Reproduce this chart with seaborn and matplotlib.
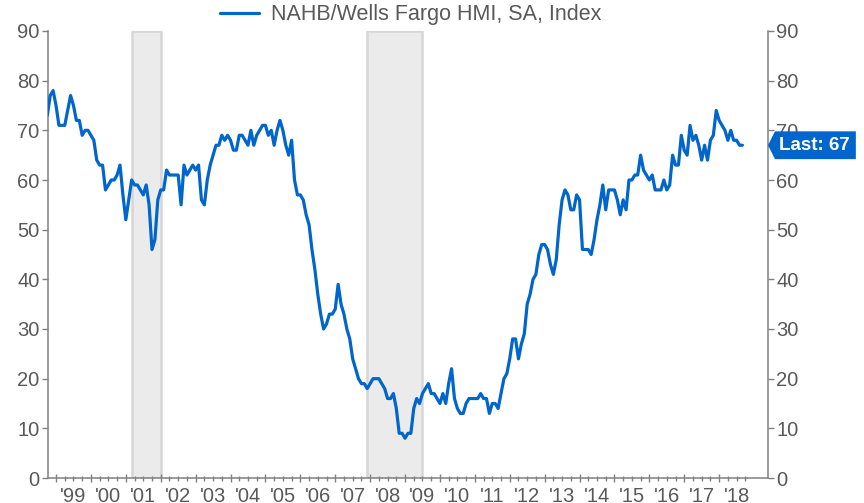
import numpy as np
import pandas as pd
import matplotlib
matplotlib.use("Agg")
import matplotlib.pyplot as plt
import matplotlib.transforms as mtransforms
from matplotlib.patches import Polygon
from matplotlib.ticker import FixedLocator, FixedFormatter, MultipleLocator, NullFormatter
import seaborn as sns

# ── data: NAHB/Wells Fargo HMI, monthly, Oct 1998 – Sep 2018 ──
START = 1998.75  # Oct 1998 as decimal year
hmi_1998 = [73, 77, 78]
hmi_1999 = [75, 71, 71, 71, 74, 77, 75, 72, 72, 69, 70, 70]
hmi_2000 = [69, 68, 64, 63, 63, 58, 59, 60, 60, 61, 63, 57]
hmi_2001 = [52, 56, 60, 59, 59, 58, 57, 59, 55, 46, 48, 56]
hmi_2002 = [58, 58, 62, 61, 61, 61, 61, 55, 63, 61, 62, 63]
hmi_2003 = [62, 63, 56, 55, 60, 63, 65, 67, 67, 69, 68, 69]
hmi_2004 = [68, 66, 66, 69, 69, 68, 67, 70, 67, 69, 70, 71]
hmi_2005 = [71, 69, 70, 67, 70, 72, 70, 67, 65, 68, 60, 57]
hmi_2006 = [57, 56, 53, 51, 46, 42, 37, 33, 30, 31, 33, 33]
hmi_2007 = [34, 39, 35, 33, 30, 28, 24, 22, 20, 19, 19, 18]
hmi_2008 = [19, 20, 20, 20, 19, 18, 16, 16, 17, 14, 9, 9]
hmi_2009 = [8, 9, 9, 14, 16, 15, 17, 18, 19, 17, 17, 16]
hmi_2010 = [15, 17, 15, 19, 22, 16, 14, 13, 13, 15, 16, 16]
hmi_2011 = [16, 16, 17, 16, 16, 13, 15, 15, 14, 17, 20, 21]
hmi_2012 = [24, 28, 28, 24, 27, 29, 35, 37, 40, 41, 45, 47]
hmi_2013 = [47, 46, 43, 41, 44, 51, 56, 58, 57, 54, 54, 57]
hmi_2014 = [56, 46, 46, 46, 45, 48, 52, 55, 59, 54, 58, 58]
hmi_2015 = [58, 56, 53, 56, 54, 60, 60, 61, 61, 65, 62, 61]
hmi_2016 = [60, 61, 58, 58, 58, 60, 58, 59, 65, 63, 63, 69]
hmi_2017 = [66, 65, 71, 68, 69, 67, 64, 67, 64, 68, 69, 74]
hmi_2018 = [72, 71, 70, 68, 70, 68, 68, 67, 67]

hmi = (hmi_1998 + hmi_1999 + hmi_2000 + hmi_2001 + hmi_2002 + hmi_2003 + hmi_2004
       + hmi_2005 + hmi_2006 + hmi_2007 + hmi_2008 + hmi_2009 + hmi_2010 + hmi_2011
       + hmi_2012 + hmi_2013 + hmi_2014 + hmi_2015 + hmi_2016 + hmi_2017 + hmi_2018)

# recessions (decimal years)
RECESSIONS = [(2001 + 2 / 12, 2002.0), (2007 + 11 / 12, 2009.5)]

YEARS = list(range(1999, 2019))
YEAR_LABELS = ["'" + str(y)[2:] for y in YEARS]
SERIES_LABEL = "NAHB/Wells Fargo HMI, SA, Index"

BLUE = "#0066cc"
AXIS_GRAY = "#808080"
TXT = "#595959"

# ── plot ──
sns.set_style("white")
plt.rcParams["font.family"] = ["Liberation Sans", "DejaVu Sans"]

df = pd.DataFrame({"date": START + np.arange(len(hmi)) / 12, "hmi": hmi})

fig = plt.figure(figsize=(8.64, 5.03), dpi=100)
ax = fig.add_axes([48 / 864, 25 / 503, 720 / 864, 447 / 503])

for start, end in RECESSIONS:
    ax.axvspan(start, end, facecolor="#ebebeb", edgecolor="#d6d6d6", linewidth=1.8, zorder=0)

sns.lineplot(data=df, x="date", y="hmi", ax=ax, color=BLUE, linewidth=2.3,
             label=SERIES_LABEL, zorder=3)

ax.set_xlim(1998.77, 2019.4)
ax.set_ylim(0, 90)
ax.set_xlabel("")
ax.set_ylabel("")

ax.spines["top"].set_visible(False)
for s in ["left", "right", "bottom"]:
    ax.spines[s].set_color(AXIS_GRAY)
    ax.spines[s].set_linewidth(1.1)
    ax.spines[s].set_visible(True)

# y axis on both sides
ax.yaxis.set_major_locator(MultipleLocator(10))
ax.tick_params(axis="y", which="major", left=True, right=True, labelleft=True, labelright=True,
               direction="out", length=4, width=1, color=AXIS_GRAY, labelcolor=TXT,
               labelsize=14.5, pad=2)

# x axis: year ticks, quarter minor ticks, labels at mid-year
ax.xaxis.set_major_locator(FixedLocator(YEARS))
ax.xaxis.set_major_formatter(NullFormatter())
quarters, q_labels = [], []
for y, lab in zip(YEARS, YEAR_LABELS):
    for q in (1, 2, 3):
        quarters.append(y + q / 4)
        q_labels.append(lab if q == 2 else "")
ax.xaxis.set_minor_locator(FixedLocator(quarters))
ax.xaxis.set_minor_formatter(FixedFormatter(q_labels))
ax.tick_params(axis="x", which="major", bottom=True, direction="inout", length=6, width=1,
               color=AXIS_GRAY)
ax.tick_params(axis="x", which="minor", bottom=True, direction="inout", length=3.6, width=1,
               color=AXIS_GRAY, labelcolor=TXT, labelsize=14.5, pad=5)

# legend on top, centred over the plot area
ax.legend(loc="center", bbox_to_anchor=(0.4755, 0.971), bbox_transform=fig.transFigure,
          frameon=False, fontsize=15.5, handlelength=1.8, handletextpad=0.6, labelcolor=TXT)

# "Last" tag on right axis
last = hmi[-1]
trans = mtransforms.blended_transform_factory(ax.transAxes, ax.transData)
half = 2.8
tag = Polygon([(1.0, last), (1.0097, last + half), (1.122, last + half),
               (1.122, last - half), (1.0097, last - half)], closed=True,
              transform=trans, facecolor=BLUE, edgecolor="none", clip_on=False, zorder=6)
ax.add_patch(tag)
ax.text(1.0645, last, f"Last: {last}", transform=trans, ha="center", va="center",
        color="white", fontsize=13.5, fontweight="bold", zorder=7, clip_on=False)

fig.savefig("out.png", dpi=100)
